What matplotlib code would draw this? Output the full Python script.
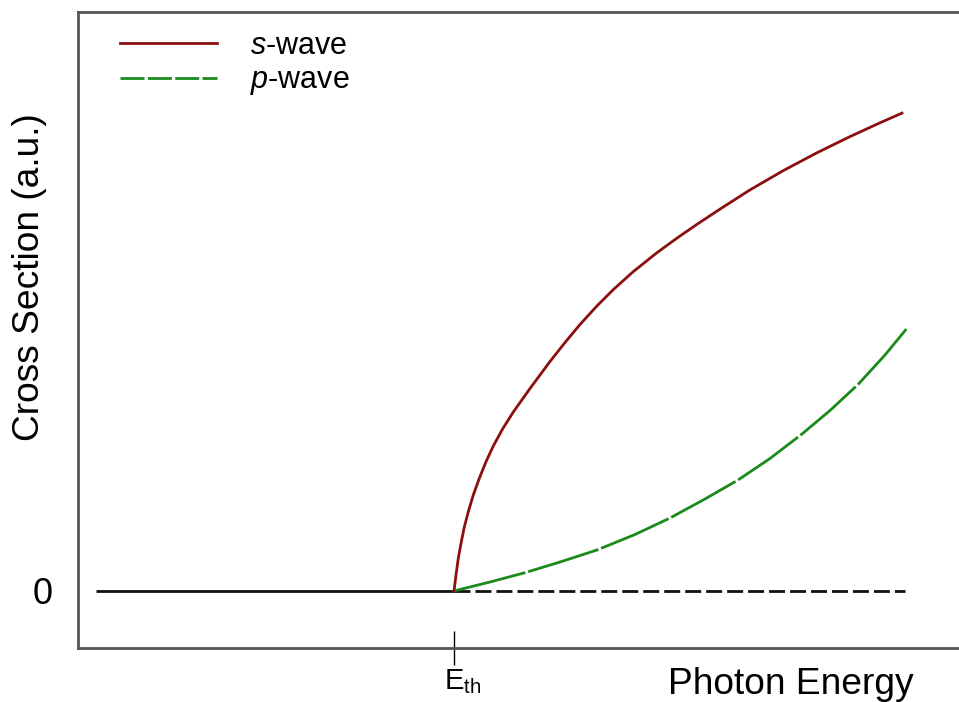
import matplotlib
matplotlib.use("Agg")
import matplotlib.pyplot as plt
import matplotlib.transforms as mtransforms
from matplotlib.lines import Line2D

plt.rcParams['font.family'] = ['Liberation Sans', 'DejaVu Sans']
plt.rcParams['mathtext.fontset'] = 'custom'
plt.rcParams['mathtext.rm'] = 'Liberation Sans'
plt.rcParams['mathtext.it'] = 'Liberation Sans:italic'
plt.rcParams['mathtext.bf'] = 'Liberation Sans:bold'
plt.rcParams['lines.scale_dashes'] = False

# ---- data (arbitrary units) ----
E_th = 3.76
E_start = 0.18
E_end = 8.27

s_energy = [3.76, 3.78, 3.803, 3.827, 3.86, 3.903, 3.953, 4.013, 4.08, 4.153,
            4.247, 4.353, 4.52, 4.72, 4.87, 5.02, 5.187, 5.353, 5.553, 5.787,
            5.987, 6.187, 6.42, 6.72, 7.053, 7.387, 7.72, 8.02, 8.24]
s_sigma = [0.0, 0.16, 0.327, 0.46, 0.627, 0.793, 0.96, 1.127, 1.293, 1.45,
           1.622, 1.79, 2.025, 2.295, 2.485, 2.665, 2.848, 3.014, 3.194, 3.381,
           3.527, 3.665, 3.819, 4.011, 4.204, 4.381, 4.544, 4.682, 4.779]

p_energy = [3.76, 4.12, 4.47, 4.82, 5.19, 5.57, 5.92, 6.27, 6.60, 6.92,
            7.24, 7.52, 7.80, 8.07, 8.30]
p_sigma = [0.0, 0.09, 0.183, 0.29, 0.41, 0.565, 0.73, 0.92, 1.11, 1.325,
           1.57, 1.805, 2.065, 2.36, 2.64]

labels = ["$s$-wave", "$p$-wave"]
s_color = "#8b0f0f"
p_color = "#1a8a1a"

fig = plt.figure(figsize=(9.59, 7.02), dpi=100)
ax = fig.add_axes([78/959, 54/702, 881/959, 636/702])

# baseline below threshold (solid) and above (dashed)
ax.plot([E_start, E_th], [0, 0], color="#111111", lw=2.0, solid_capstyle='butt')
ax.plot([E_th, E_end], [0, 0], color="#111111", lw=2.0, dashes=(11.5, 3.6))
ax.plot(p_energy, p_sigma, color=p_color, lw=2.0, dashes=(53, 2.2))
ax.plot(s_energy, s_sigma, color=s_color, lw=2.0)

ax.set_xlim(0, 8.81)
ax.set_ylim(-0.57, 5.79)

for side in ("left", "top", "bottom"):
    ax.spines[side].set_color("#555555")
    ax.spines[side].set_linewidth(2.0)
ax.spines["right"].set_visible(False)

ax.set_xticks([E_th])
ax.set_xticklabels([r"E$_{\mathrm{th}}$"], fontsize=21)
ax.tick_params(axis='x', direction='inout', length=25, width=1, color='black', pad=1)
shift = mtransforms.ScaledTranslation(-10/100, 0, fig.dpi_scale_trans)
for lbl in ax.get_xticklabels():
    lbl.set_ha('left')
    lbl.set_transform(lbl.get_transform() + shift)

ax.set_yticks([0])
ax.set_yticklabels(["0"], fontsize=26)
ax.tick_params(axis='y', length=0, pad=18)

ax.set_xlabel("Photon Energy", fontsize=26.7)
ax.xaxis.set_label_coords(0.809, -0.03)
ax.set_ylabel("Cross Section (a.u.)", fontsize=26.7)
ax.yaxis.set_label_coords(-0.035, 0.583)

handles = [Line2D([], [], color=s_color, lw=2.0),
           Line2D([], [], color=p_color, lw=2.0, dashes=(17.3, 2.4))]
ax.legend(handles, labels, loc='upper left', bbox_to_anchor=(120/959, 0.956),
          bbox_transform=fig.transFigure, frameon=False, fontsize=22,
          handlelength=3.17, handletextpad=1.08, labelspacing=0.15,
          borderpad=0, borderaxespad=0)

fig.savefig("out.png", dpi=100)
